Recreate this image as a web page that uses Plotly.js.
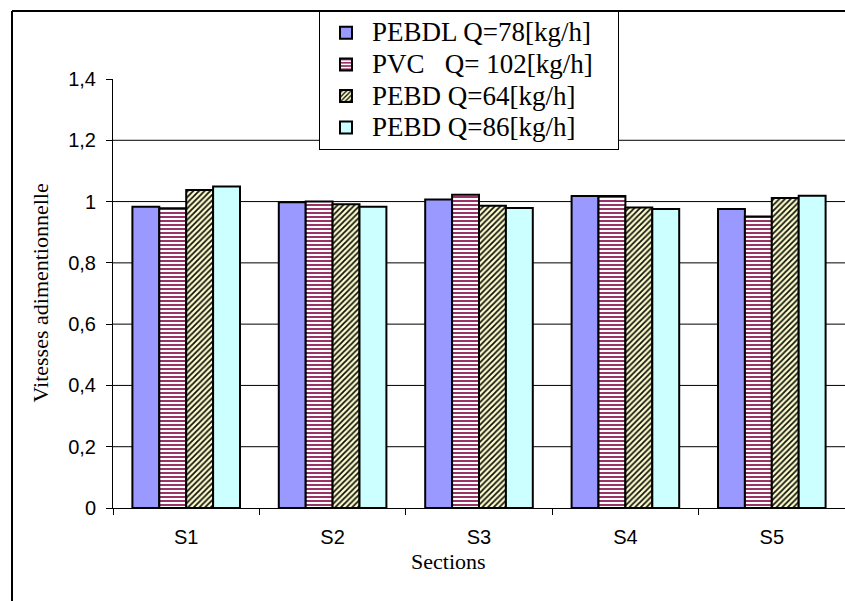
<!DOCTYPE html>
<html>
<head>
<meta charset="utf-8">
<script src="https://cdn.plot.ly/plotly-3.0.1.min.js"></script>
<style>html,body{margin:0;padding:0;background:#fff;}#chart{width:845px;height:601px;}</style>
</head>
<body>
<div id="chart"></div>
<script>
const categories = ['S1', 'S2', 'S3', 'S4', 'S5'];
const seriesNames = ['PEBDL Q=78[kg/h]', 'PVC&nbsp;&nbsp;&nbsp;Q= 102[kg/h]&nbsp;&nbsp;&nbsp;', 'PEBD Q=64[kg/h]', 'PEBD Q=86[kg/h]'];
const pebdl78 = [0.983, 0.998, 1.007, 1.018, 0.976];
const pvc102  = [0.978, 1.000, 1.022, 1.018, 0.951];
const pebd64  = [1.038, 0.991, 0.986, 0.981, 1.012];
const pebd86  = [1.049, 0.983, 0.979, 0.976, 1.019];
const yTickVals = [0, 0.2, 0.4, 0.6, 0.8, 1, 1.2, 1.4];
const yTickText = ['0', '0,2', '0,4', '0,6', '0,8', '1', '1,2', '1,4'];
const gridVals = [0.2, 0.4, 0.6, 0.8, 1, 1.2];

const big = s => '<span style="font-size:27px">' + s + '</span>';
const line = {color: '#000', width: 2};
const traces = [
  {type: 'bar', name: big(seriesNames[0]), x: categories, y: pebdl78,
   marker: {color: '#9999FF', line: line}},
  {type: 'bar', name: big(seriesNames[1]), x: categories, y: pvc102,
   marker: {color: '#FFFFFF', line: line,
            pattern: {shape: '-', fgcolor: '#993366', bgcolor: '#FFFFFF', size: 4, solidity: 0.5, fillmode: 'replace'}}},
  {type: 'bar', name: big(seriesNames[2]), x: categories, y: pebd64,
   marker: {color: '#FFFFCC', line: line,
            pattern: {shape: '/', fgcolor: '#111111', bgcolor: '#FFFFCC', size: 4, solidity: 0.45, fillmode: 'replace'}}},
  {type: 'bar', name: big(seriesNames[3]), x: categories, y: pebd86,
   marker: {color: '#CCFFFF', line: line}}
];

const shapes = gridVals.map(v => ({
  type: 'line', xref: 'paper', yref: 'y', x0: 0, x1: 1, y0: v, y1: v,
  line: {color: '#000', width: 1}, layer: 'below'
}));
// outer chart frame (left and top edges)
shapes.push({type: 'line', xref: 'paper', yref: 'paper', x0: (12-113)/732, x1: (12-113)/732, y0: (508-11)/429, y1: (508-605)/429, line: {color: '#000', width: 2}});
shapes.push({type: 'line', xref: 'paper', yref: 'paper', x0: (12-113)/732, x1: (850-113)/732, y0: (508-11)/429, y1: (508-11)/429, line: {color: '#000', width: 2}});

const layout = {
  width: 845, height: 601,
  margin: {l: 113, r: 0, t: 79, b: 93, autoexpand: false},
  paper_bgcolor: '#fff', plot_bgcolor: '#fff',
  barmode: 'group', bargap: 0.265, bargroupgap: 0,
  showlegend: true,
  legend: {
    xref: 'container', yref: 'container',
    x: 319/845, y: 1 - 11/601, xanchor: 'left', yanchor: 'top',
    bgcolor: '#fff', bordercolor: '#000', borderwidth: 1,
    font: {family: 'Liberation Serif', size: 22, color: '#000'},
    traceorder: 'normal', tracegroupgap: 0, itemwidth: 42
  },
  xaxis: {
    range: [-0.5, 4.5], showgrid: false, zeroline: false,
    showline: true, linecolor: '#000', linewidth: 1,
    ticks: 'outside', tickson: 'boundaries', ticklen: 6, tickcolor: '#000',
    ticklabelstandoff: 11,
    tickfont: {family: 'Liberation Sans', size: 20, color: '#000'}
  },
  yaxis: {
    range: [0, 1.4], showgrid: false, zeroline: false,
    showline: true, linecolor: '#000', linewidth: 1,
    ticks: 'outside', ticklen: 6, tickcolor: '#000',
    ticklabelstandoff: 6,
    tickvals: yTickVals, ticktext: yTickText,
    tickfont: {family: 'Liberation Sans', size: 20, color: '#000'}
  },
  shapes: shapes,
  annotations: [
    {text: 'Sections', xref: 'paper', yref: 'paper', x: (448-113)/732, y: (508-561)/429,
     xanchor: 'center', yanchor: 'middle', showarrow: false,
     font: {family: 'Liberation Serif', size: 22, color: '#000'}},
    {text: 'Vitesses adimentionnelle', xref: 'paper', yref: 'paper', x: (40-113)/732, y: 0.5,
     xanchor: 'center', yanchor: 'middle', showarrow: false, textangle: -90,
     font: {family: 'Liberation Serif', size: 22, color: '#000'}}
  ]
};

Plotly.newPlot('chart', traces, layout, {staticPlot: true, displayModeBar: false});
</script>
</body>
</html>
